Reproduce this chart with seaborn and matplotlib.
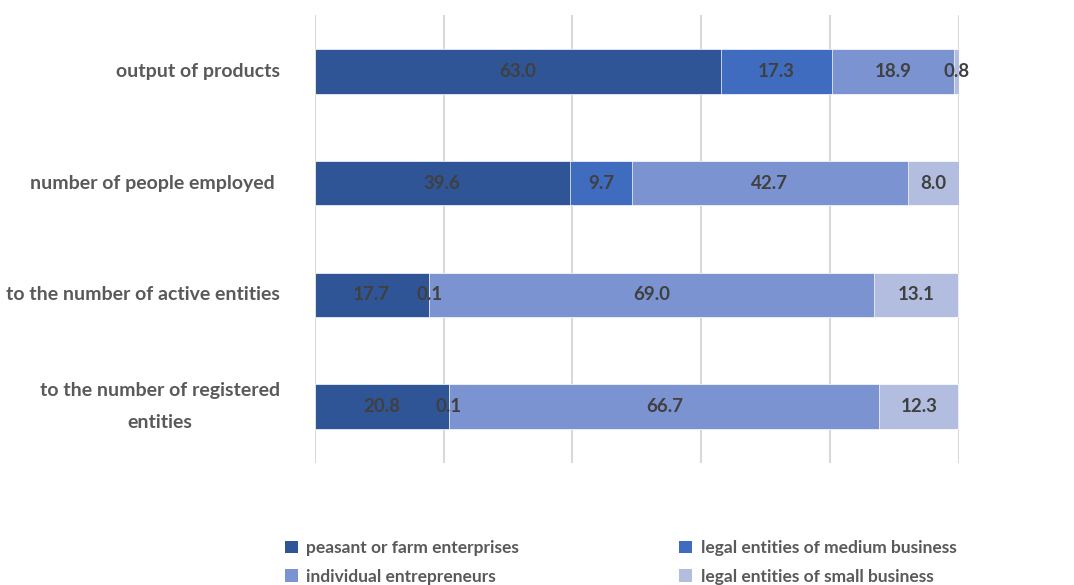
import numpy as np
import pandas as pd
import matplotlib
matplotlib.use("Agg")
import matplotlib.pyplot as plt
import seaborn as sns
from matplotlib.patches import Patch

# data (percent shares)
categories = ['output of products', 'number of people employed ',
              'to the number of active entities',
              'to the number of registered\nentities']
series = ['peasant or farm enterprises', 'legal entities of medium business',
          'individual entrepreneurs', 'legal entities of small business']
peasant = [63.0, 39.6, 17.7, 20.8]
medium = [17.3, 9.7, 0.1, 0.1]
individual = [18.9, 42.7, 69.0, 66.7]
small = [0.8, 8.0, 13.1, 12.3]

colors = ['#2F5597', '#3F6CBF', '#7B93D0', '#B3BDE0']

sns.set_theme(style='white')
plt.rcParams['font.family'] = ['Lato', 'DejaVu Sans']

values = np.array([peasant, medium, individual, small])
cum = values.cumsum(axis=0)

fig, ax = plt.subplots(figsize=(10.74, 5.85), dpi=100)
fig.subplots_adjust(left=0.293, right=0.893, top=0.974, bottom=0.209)

# draw cumulative totals from largest to smallest so segments stack
for i in range(len(series) - 1, -1, -1):
    df = pd.DataFrame({'cat': categories, 'val': cum[i]})
    sns.barplot(data=df, x='val', y='cat', color=colors[i], saturation=1,
                width=0.4, ax=ax, edgecolor='white', linewidth=0.5)

# data labels at segment centres
for i in range(len(series)):
    start = cum[i] - values[i]
    for j in range(len(categories)):
        ax.text(start[j] + values[i][j] / 2, j, f'{values[i][j]:.1f}',
                ha='center', va='center', fontsize=13.5, color='#404040',
                fontweight='bold')

ax.set_xlim(0, 100)
ax.set_ylim(3.5, -0.5)
ax.set_xticks([0, 20, 40, 60, 80, 100])
ax.set_xticklabels([])
ax.xaxis.grid(True, color='#D9D9D9', linewidth=1.5)
ax.set_axisbelow(True)
for s in ax.spines.values():
    s.set_visible(False)
ax.set_xlabel('')
ax.set_ylabel('')
ax.tick_params(axis='y', length=0, pad=25)
ax.tick_params(axis='x', length=0)
for lab in ax.get_yticklabels():
    lab.set_fontsize(14)
    lab.set_color('#595959')
    lab.set_fontweight('bold')
    lab.set_multialignment('center')
    lab.set_linespacing(2.1)
    lab.set_va('center')

# legend filled row-wise: reorder for matplotlib's column-wise fill
order = [0, 2, 1, 3]
handles = [Patch(facecolor=colors[k], edgecolor='none') for k in order]
labels = [series[k] for k in order]
fig.legend(handles, labels, loc='lower left', bbox_to_anchor=(0.2505, -0.026),
           ncol=2, frameon=False, labelcolor='#595959',
           handlelength=0.75, handleheight=0.75, handletextpad=0.5,
           columnspacing=9.2, labelspacing=0.72,
           prop={'weight': 'bold', 'size': 12.5})

fig.savefig('out.png', dpi=100)
